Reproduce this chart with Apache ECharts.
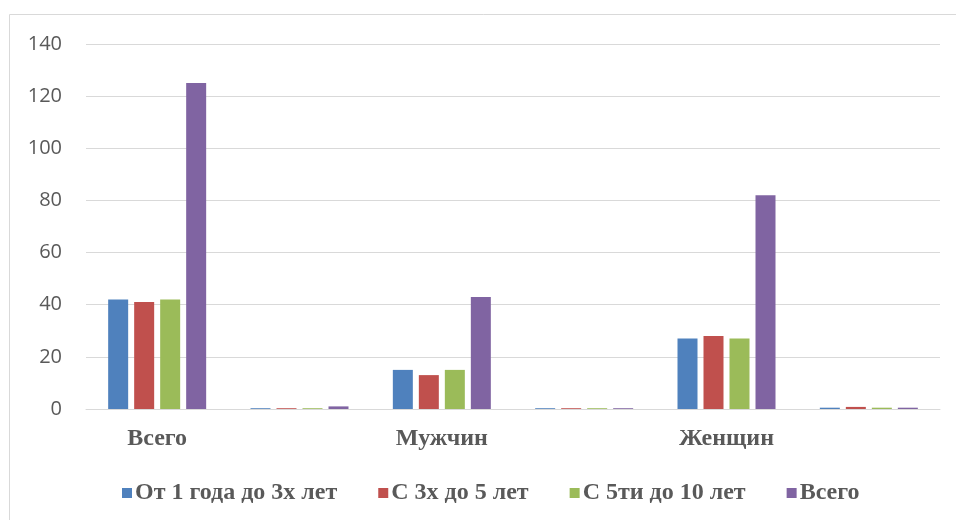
<!DOCTYPE html>
<html>
<head>
<meta charset="utf-8">
<script src="https://cdn.jsdelivr.net/npm/echarts@6/dist/echarts.min.js"></script>
<style>
  html, body { margin: 0; padding: 0; background: #fff; }
  #chart { width: 956px; height: 520px; }
</style>
</head>
<body>
<div id="chart"></div>
<script>
// Categories (every other slot is an unlabeled group)
const categories = ['Всего', '', 'Мужчин', '', 'Женщин', ''];
const seriesNames = ['От 1 года до 3х лет', 'С 3х до 5 лет', 'С 5ти до 10 лет', 'Всего'];
const s1to3 = [42, 0.3, 15, 0.3, 27, 0.5];
const s3to5 = [41, 0.3, 13, 0.3, 28, 0.8];
const s5to10 = [42, 0.3, 15, 0.3, 27, 0.5];
const sTotal = [125, 1, 43, 0.3, 82, 0.5];
const colors = ['#4f81bd', '#c0504d', '#9bbb59', '#8064a2'];
const yTicks = { min: 0, max: 140, interval: 20 };

const chart = echarts.init(document.getElementById('chart'));
const serif = '"Liberation Serif", "DejaVu Serif", serif';
const dataSets = [s1to3, s3to5, s5to10, sTotal];

chart.setOption({
  animation: false,
  color: colors,
  graphic: [{
    type: 'rect',
    shape: { x: 9.5, y: 14.5, width: 1200, height: 1200 },
    style: { fill: 'none', stroke: '#d9d9d9', lineWidth: 1 },
    silent: true
  }],
  grid: { left: 86, right: 16, top: 44, bottom: 111, containLabel: false },
  legend: {
    data: seriesNames,
    top: 476,
    left: 117,
    itemWidth: 10,
    itemHeight: 10,
    itemGap: 41,
    icon: 'rect',
    textStyle: { fontFamily: serif, fontWeight: 'bold', fontSize: 24, color: '#595959', padding: [0, 0, 0, -2] }
  },
  xAxis: {
    type: 'category',
    data: categories,
    axisLine: { lineStyle: { color: '#d9d9d9', width: 1 } },
    axisTick: { show: false },
    axisLabel: {
      interval: 0,
      margin: 18,
      fontFamily: serif,
      fontWeight: 'bold',
      fontSize: 24,
      color: '#595959'
    }
  },
  yAxis: {
    type: 'value',
    min: yTicks.min,
    max: yTicks.max,
    interval: yTicks.interval,
    axisLine: { show: false },
    axisTick: { show: false },
    splitLine: { lineStyle: { color: '#d9d9d9', width: 1 } },
    axisLabel: {
      margin: 24,
      fontFamily: '"Open Sans", "Liberation Sans", sans-serif',
      fontSize: 20,
      color: '#595959'
    }
  },
  series: seriesNames.map((name, i) => ({
    name,
    type: 'bar',
    data: dataSets[i],
    barWidth: 20,
    barGap: '30%',
    itemStyle: { color: colors[i] }
  }))
});
</script>
</body>
</html>
